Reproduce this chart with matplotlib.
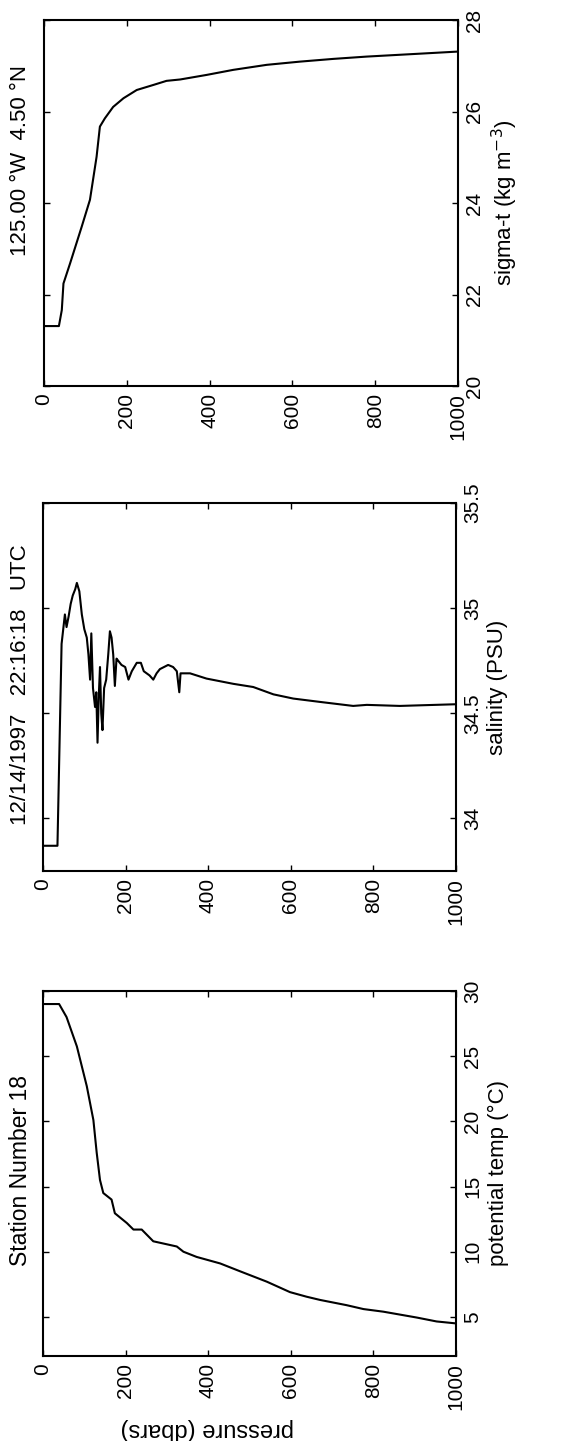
import matplotlib
matplotlib.use('Agg')
import matplotlib.pyplot as plt

plt.rcParams['font.family'] = ['Liberation Sans', 'DejaVu Sans']

# pressure (dbar) / sigma-t (kg m-3)
p_sig = [0, 36, 43, 47, 63, 91, 111, 127, 135, 147, 167, 192, 224, 264, 296, 329,
         393, 457, 538, 618, 699, 779, 900, 1000]
sig = [21.31, 21.31, 21.66, 22.24, 22.68, 23.48, 24.07, 25.01, 25.67, 25.85, 26.10,
       26.29, 26.47, 26.58, 26.67, 26.70, 26.80, 26.91, 27.02, 27.09, 27.15, 27.20,
       27.26, 27.31]

# pressure / salinity (PSU)
p_sal = [0, 35, 45, 53, 57, 62, 67, 72, 78, 82, 88, 94, 100, 106, 110, 114, 117, 121,
         126, 129, 132, 135, 138, 141, 144, 148, 153, 158, 162, 166, 170, 174, 178,
         182, 190, 199, 207, 215, 227, 237, 244, 251, 258, 267, 275, 283, 303, 315,
         324, 330, 333, 356, 396, 461, 509, 558, 606, 671, 751, 784, 864, 1000]
sal = [33.87, 33.87, 34.83, 34.97, 34.91, 34.96, 35.02, 35.06, 35.09, 35.12, 35.08,
       34.97, 34.90, 34.86, 34.78, 34.66, 34.88, 34.62, 34.53, 34.60, 34.36, 34.58,
       34.72, 34.50, 34.42, 34.62, 34.66, 34.78, 34.89, 34.86, 34.78, 34.63, 34.76,
       34.75, 34.73, 34.72, 34.66, 34.70, 34.74, 34.74, 34.70, 34.69, 34.68, 34.66,
       34.69, 34.71, 34.73, 34.72, 34.70, 34.60, 34.69, 34.69, 34.665, 34.64, 34.625,
       34.59, 34.57, 34.554, 34.535, 34.54, 34.535, 34.543]

# pressure / potential temperature (deg C)
p_tmp = [0, 39, 57, 82, 106, 122, 130, 138, 146, 166, 174, 203, 219, 239, 267, 324,
         340, 372, 429, 477, 542, 598, 638, 671, 735, 776, 824, 905, 953, 1000]
tmp = [29.0, 29.0, 28.0, 25.75, 22.7, 20.1, 17.6, 15.5, 14.5, 14.0, 12.95, 12.2, 11.7,
       11.7, 10.8, 10.4, 10.0, 9.6, 9.1, 8.5, 7.7, 6.9, 6.55, 6.3, 5.9, 5.6, 5.4, 4.95,
       4.65, 4.5]

p_ticks = [0, 200, 400, 600, 800, 1000]

fig = plt.figure(figsize=(5.76, 14.41), dpi=100)

W, H = 576.0, 1441.0
panels = [
    # (left, top, right, bottom) in pixels
    (44, 20, 458, 386),
    (43, 503, 456, 871),
    (43, 991, 456, 1356),
]

def make_ax(box):
    l, t, r, b = box
    ax = fig.add_axes([l / W, 1 - b / H, (r - l) / W, (b - t) / H])
    ax.set_xlim(0, 1000)
    ax.set_xticks(p_ticks)
    ax.set_xticklabels([str(v) for v in p_ticks], rotation=90, fontsize=15)
    ax.yaxis.tick_right()
    ax.tick_params(direction='in', top=True, bottom=True, left=True, right=True,
                   labelleft=False, labelright=True, length=4, width=1, pad=5)
    for s in ax.spines.values():
        s.set_linewidth(1.5)
    return ax

ax1 = make_ax(panels[0])
ax1.plot(p_sig, sig, color='black', lw=1.5)
ax1.set_ylim(20, 28)
ax1.set_yticks([20, 22, 24, 26, 28])
ax1.set_yticklabels(['20', '22', '24', '26', '28'], rotation=90, va='center', fontsize=15)
ax1.yaxis.set_label_position('right')
ax1.set_ylabel('sigma-t (kg m$^{-3}$)', rotation=90, fontsize=16, labelpad=4)

ax2 = make_ax(panels[1])
ax2.plot(p_sal, sal, color='black', lw=1.5)
ax2.set_ylim(33.75, 35.5)
ax2.set_yticks([34, 34.5, 35, 35.5])
ax2.set_yticklabels(['34', '34.5', '35', '35.5'], rotation=90, va='center', fontsize=15)
ax2.yaxis.set_label_position('right')
ax2.set_ylabel('salinity (PSU)', rotation=90, fontsize=16, labelpad=4)

ax3 = make_ax(panels[2])
ax3.plot(p_tmp, tmp, color='black', lw=1.5)
ax3.set_ylim(2, 30)
ax3.set_yticks([5, 10, 15, 20, 25, 30])
ax3.set_yticklabels(['5', '10', '15', '20', '25', '30'], rotation=90, va='center', fontsize=15)
ax3.yaxis.set_label_position('right')
ax3.set_ylabel('potential temp (°C)', rotation=90, fontsize=16, labelpad=4)

fig.text(21 / W, 1 - 160 / H, '125.00 °W  4.50 °N', rotation=90, ha='center', va='center', fontsize=16)
fig.text(21 / W, 1 - 685 / H, '12/14/1997   22:16:18   UTC', rotation=90, ha='center', va='center', fontsize=16)
fig.text(21 / W, 1 - 1171 / H, 'Station Number 18', rotation=90, ha='center', va='center', fontsize=16.5)
fig.text(207 / W, 1 - 1429 / H, 'pressure (dbars)', rotation=180, ha='center', va='center', fontsize=17)

fig.savefig('out.png', dpi=100)
